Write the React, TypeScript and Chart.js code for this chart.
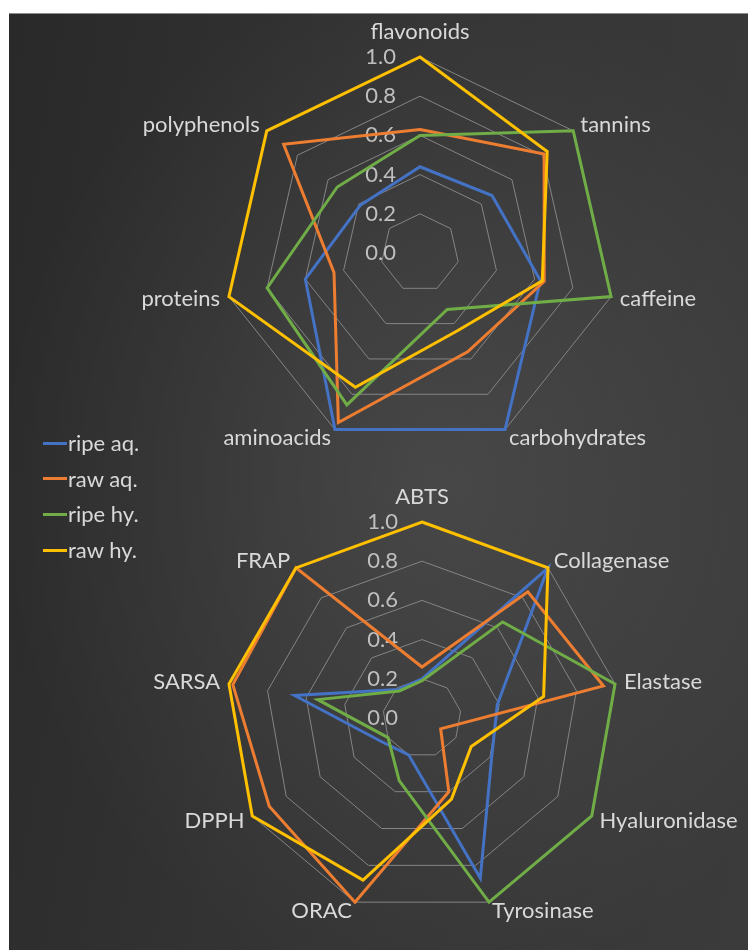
import React, { useEffect, useRef } from 'react';
import { Chart, registerables } from 'chart.js';

Chart.register(...registerables);

// ---------- data ----------
const SERIES_NAMES = ['ripe aq.', 'raw aq.', 'ripe hy.', 'raw hy.'];
const SERIES_COLORS = ['#4472C4', '#ED7D31', '#70AD47', '#FFC000'];

const TOP_CATEGORIES = ['flavonoids', 'tannins', 'caffeine', 'carbohydrates', 'aminoacids', 'proteins', 'polyphenols'];
const TOP_RIPE_AQ = [0.44, 0.47, 0.63, 1.0, 1.0, 0.6, 0.39];
const TOP_RAW_AQ = [0.63, 0.81, 0.65, 0.56, 0.96, 0.45, 0.89];
const TOP_RIPE_HY = [0.6, 1.0, 1.0, 0.32, 0.86, 0.8, 0.54];
const TOP_RAW_HY = [1.0, 0.83, 0.64, 0.44, 0.76, 1.0, 1.0];

const BOTTOM_CATEGORIES = ['ABTS', 'Collagenase', 'Elastase', 'Hyaluronidase', 'Tyrosinase', 'ORAC', 'DPPH', 'SARSA', 'FRAP'];
const BOTTOM_RIPE_AQ = [0.2, 1.0, 0.39, 0.41, 0.87, 0.2, 0.24, 0.66, 0.19];
const BOTTOM_RAW_AQ = [0.26, 0.84, 0.94, 0.11, 0.4, 1.0, 0.9, 0.98, 1.0];
const BOTTOM_RIPE_HY = [0.19, 0.64, 1.0, 1.0, 1.0, 0.34, 0.2, 0.54, 0.18];
const BOTTOM_RAW_HY = [1.0, 1.0, 0.63, 0.29, 0.44, 0.88, 1.0, 1.0, 1.0];

const TICK_LABELS = ['0.0', '0.2', '0.4', '0.6', '0.8', '1.0'];
const AXIS_MIN = 0;
const AXIS_MAX = 1;
const AXIS_STEP = 0.2;

// ---------- styles ----------
const FONT_FAMILY = "Lato, 'Open Sans', sans-serif";
const FONT_SIZE = 22;
const LABEL_COLOR = '#d9d9d9';
const TICK_COLOR = '#bfbfbf';
const GRID_COLOR = '#858585';
const LABEL_GAP = 9;
const TICK_GAP = 24;

const textPlugin = {
  id: 'radarText',
  beforeDatasetsDraw(chart: any) {
    const scale = chart.scales.r;
    const ctx = chart.ctx;
    ctx.save();
    ctx.font = `${FONT_SIZE}px ${FONT_FAMILY}`;
    ctx.textBaseline = 'middle';
    ctx.fillStyle = LABEL_COLOR;
    const labels: string[] = chart.data.labels;
    for (let i = 0; i < labels.length; i++) {
      const p = scale.getPointPosition(i, scale.drawingArea + LABEL_GAP);
      const deg = (scale.getIndexAngle(i) * 180) / Math.PI;
      let y = p.y;
      if (deg < 1 || deg > 359) {
        ctx.textAlign = 'center';
        y -= 16;
      } else if (Math.abs(deg - 180) < 1) {
        ctx.textAlign = 'center';
        y += 16;
      } else if (deg < 180) {
        ctx.textAlign = 'left';
      } else {
        ctx.textAlign = 'right';
      }
      ctx.fillText(labels[i], p.x, y);
    }
    ctx.fillStyle = TICK_COLOR;
    ctx.textAlign = 'right';
    scale.ticks.forEach((t: any, k: number) => {
      const d = scale.getDistanceFromCenterForValue(t.value);
      const txt = TICK_LABELS[k] !== undefined ? TICK_LABELS[k] : Number(t.value).toFixed(1);
      ctx.fillText(txt, scale.xCenter - TICK_GAP, scale.yCenter - d);
    });
    ctx.restore();
  },
};

type RadarProps = {
  labels: string[];
  series: number[][];
  width: number;
  height: number;
  padding: { left: number; top: number; right: number; bottom: number };
  style: React.CSSProperties;
};

function RadarChart({ labels, series, width, height, padding, style }: RadarProps) {
  const ref = useRef<HTMLCanvasElement | null>(null);
  useEffect(() => {
    if (!ref.current) return;
    const chart = new Chart(ref.current, {
      type: 'radar',
      data: {
        labels,
        datasets: series.map((vals, i) => ({
          label: SERIES_NAMES[i],
          data: vals,
          borderColor: SERIES_COLORS[i],
          backgroundColor: 'transparent',
          borderWidth: 3,
          pointRadius: 0,
          pointHoverRadius: 0,
          fill: false,
          tension: 0,
          order: series.length - 1 - i,
        })),
      },
      options: {
        responsive: false,
        animation: false,
        devicePixelRatio: 1,
        layout: { padding },
        plugins: {
          legend: { display: false },
          tooltip: { enabled: false },
        },
        scales: {
          r: {
            min: AXIS_MIN,
            max: AXIS_MAX,
            ticks: { display: false, stepSize: AXIS_STEP },
            pointLabels: { display: false },
            angleLines: { display: false },
            grid: { color: GRID_COLOR, lineWidth: 1 },
          },
        },
      },
      plugins: [textPlugin],
    } as any);
    return () => chart.destroy();
  }, []);
  return <canvas ref={ref} width={width} height={height} style={{ position: 'absolute', width, height, ...style }} />;
}

function Legend() {
  return (
    <>
      {SERIES_NAMES.map((name, i) => (
        <div
          key={name}
          style={{
            position: 'absolute',
            left: 34,
            top: 418 + i * 35.7,
            height: 24,
            display: 'flex',
            alignItems: 'center',
            fontFamily: FONT_FAMILY,
            fontSize: FONT_SIZE,
            lineHeight: '24px',
            color: LABEL_COLOR,
            whiteSpace: 'nowrap',
          }}
        >
          <span style={{ display: 'inline-block', width: 24, height: 3, background: SERIES_COLORS[i], marginRight: 1 }} />
          <span>{name}</span>
        </div>
      ))}
    </>
  );
}

export default function App() {
  return (
    <div
      style={{
        position: 'absolute',
        left: 9,
        top: 13,
        width: 739,
        height: 937,
        overflow: 'hidden',
        background:
          'radial-gradient(ellipse 60% 55% at 58% 50%, rgba(255,255,255,0.09) 0%, rgba(255,255,255,0.04) 55%, rgba(255,255,255,0) 100%), linear-gradient(100deg, #292929 0%, #333333 40%, #3b3b3b 100%)',
      }}
    >
      <div style={{ position: 'absolute', left: 0, top: 0, width: 739, height: 1, background: '#8c8c8c' }} />
      <RadarChart
        labels={TOP_CATEGORIES}
        series={[TOP_RIPE_AQ, TOP_RAW_AQ, TOP_RIPE_HY, TOP_RAW_HY]}
        width={739}
        height={460}
        padding={{ left: 215, top: 44, right: 132, bottom: 24 }}
        style={{ left: 0, top: 0 }}
      />
      <RadarChart
        labels={BOTTOM_CATEGORIES}
        series={[BOTTOM_RIPE_AQ, BOTTOM_RAW_AQ, BOTTOM_RIPE_HY, BOTTOM_RAW_HY]}
        width={739}
        height={477}
        padding={{ left: 217, top: 49, right: 130, bottom: 36 }}
        style={{ left: 0, top: 460 }}
      />
      <Legend />
    </div>
  );
}
